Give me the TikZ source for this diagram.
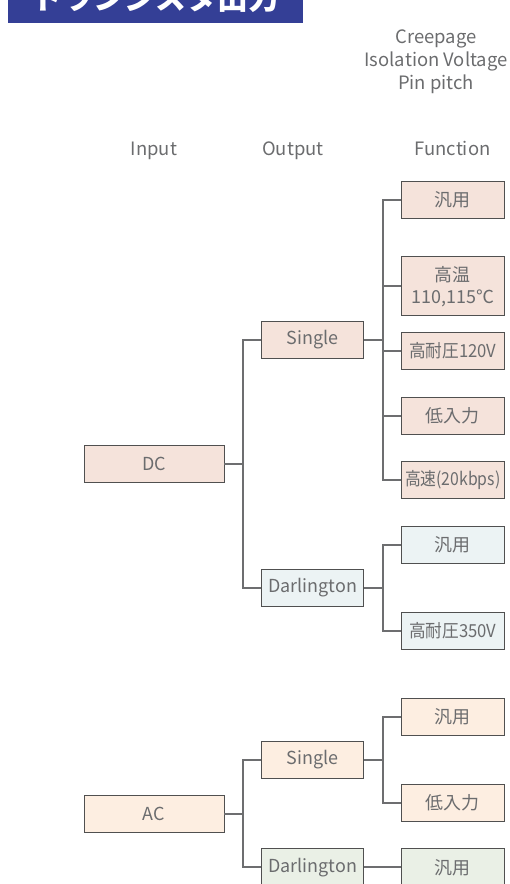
\documentclass[tikz,border=0pt]{standalone}
\usepackage{fontspec}
\setmainfont{Noto Sans CJK JP}
\usetikzlibrary{positioning}
\definecolor{titleblue}{HTML}{343F96}
\definecolor{txtgray}{HTML}{6B6C6E}
\definecolor{boxline}{HTML}{505050}
\definecolor{linkgray}{HTML}{6D6E70}
\definecolor{dcfill}{HTML}{F5E3DB}
\definecolor{dbfill}{HTML}{ECF3F4}
\definecolor{acfill}{HTML}{FDEEE1}
\definecolor{agfill}{HTML}{EAF0E6}

\begin{document}
\begin{tikzpicture}[x=1bp,y=-1bp,
  box/.style={draw=boxline,line width=0.9bp,text=txtgray,minimum height=37bp,
    inner sep=0pt,align=center,font=\fontsize{18}{22}\selectfont},
  fbox/.style={box,minimum width=103bp},
  obox/.style={box,minimum width=102bp},
  ibox/.style={box,minimum width=140bp},
  head/.style={text=txtgray,inner sep=0pt,font=\fontsize{18.5}{23}\selectfont},
  link/.style={draw=linkgray,line width=2bp}]
\useasboundingbox (0,0) rectangle (510,884);

% title bar
\fill[titleblue] (8,0) rectangle (303,22.7);
\begin{scope}
\clip (8,0) rectangle (303,22.7);
\node[text=white,inner sep=0pt,anchor=base,font=\fontsize{31}{31}\bfseries] (title) at (155.5,9.5) {トランジスタ出力};
\end{scope}

% headings
\node[head,align=center] (spec) at (436,61.5) {Creepage\\Isolation Voltage\\Pin pitch};
\node[head,anchor=base] (hin) at (154,155.7) {Input};
\node[head,anchor=base] (hout) at (293,155.7) {Output};
\node[head,anchor=base] (hfun) at (452.5,155.7) {Function};

% input
\node[ibox,fill=dcfill] (dc) at (154,464) {DC};
\node[ibox,fill=acfill] (ac) at (154,813.7) {AC};

% output
\node[obox,fill=dcfill] (dcsingle) at (312.8,340) {Single};
\node[obox,fill=dbfill] (dcdarl) at (312.8,587.5) {Darlington};
\node[obox,fill=acfill] (acsingle) at (312.8,760) {Single};
\node[obox,fill=agfill] (acdarl) at (312.8,867.3) {Darlington};

% function
\node[fbox,fill=dcfill] (f1) at (452.7,200) {汎用};
\node[fbox,fill=dcfill,minimum height=59bp] (f2) at (452.7,286.4) {高温\\110,115℃};
\node[fbox,fill=dcfill] (f3) at (452.7,351) {\scalebox{0.93}[1]{高耐圧120V}};
\node[fbox,fill=dcfill] (f4) at (452.7,416) {低入力};
\node[fbox,fill=dcfill] (f5) at (452.7,480.2) {\scalebox{0.88}[1]{高速(20kbps)}};
\node[fbox,fill=dbfill] (f6) at (452.7,544.7) {汎用};
\node[fbox,fill=dbfill] (f7) at (452.7,630.5) {\scalebox{0.93}[1]{高耐圧350V}};
\node[fbox,fill=acfill] (f8) at (452.7,717) {汎用};
\node[fbox,fill=acfill] (f9) at (452.7,803) {低入力};
\node[fbox,fill=agfill] (f10) at (452.7,867.3) {汎用};

% connectors
\foreach \o in {dcsingle,dcdarl}
  \draw[link] (dc.east) -- ++(18.75,0) |- (\o.west);
\foreach \o in {acsingle,acdarl}
  \draw[link] (ac.east) -- ++(18.75,0) |- (\o.west);
\foreach \f in {f1,f2,f3,f4,f5}
  \draw[link] (dcsingle.east) -- ++(18.75,0) |- (\f.west);
\foreach \f in {f6,f7}
  \draw[link] (dcdarl.east) -- ++(18.75,0) |- (\f.west);
\foreach \f in {f8,f9}
  \draw[link] (acsingle.east) -- ++(18.75,0) |- (\f.west);
\draw[link] (acdarl.east) -- (f10.west);
\end{tikzpicture}
\end{document}
